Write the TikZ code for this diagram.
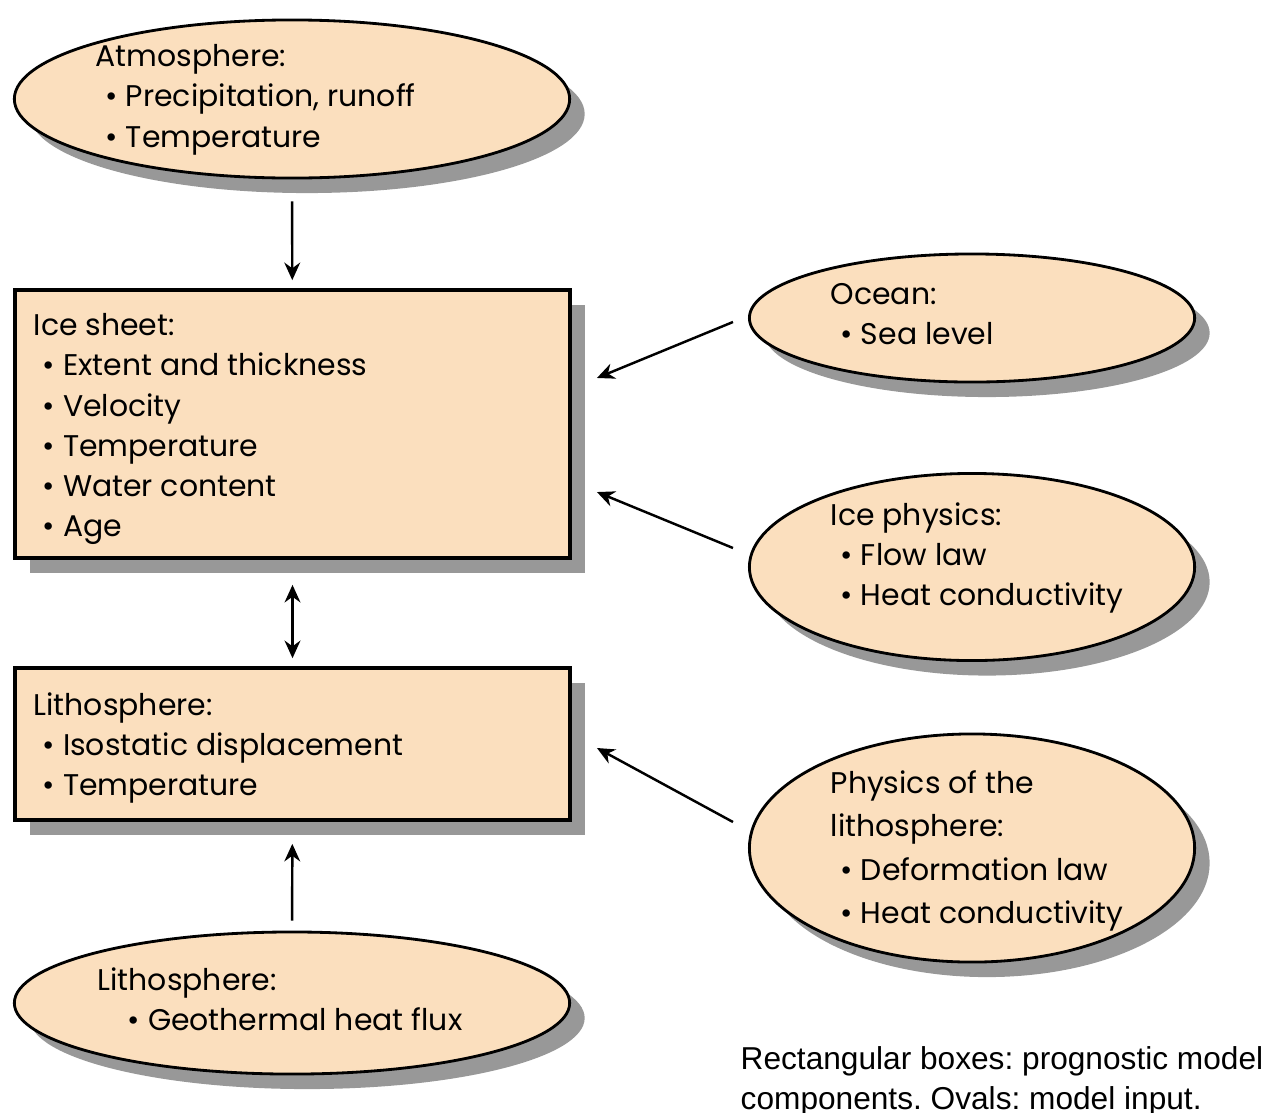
\documentclass[tikz,border=0pt]{standalone}
\usepackage{fontspec}
\setmainfont{Poppins}
\newfontfamily\notefont{Liberation Sans}
\usetikzlibrary{shapes.geometric,shadows,arrows.meta}
\definecolor{peach}{RGB}{251,223,190}
\definecolor{shade}{RGB}{152,152,152}
\frenchspacing

\begin{document}
\begin{tikzpicture}[x=0.01cm, y=-0.01cm,
  box/.style={draw, line width=1pt, fill=peach, minimum width=5.55cm, inner sep=0pt,
    drop shadow={shadow xshift=0.15cm, shadow yshift=-0.15cm, fill=shade, opacity=1}},
  oval/.style={ellipse, draw, line width=0.8pt, fill=peach, inner sep=0pt,
    drop shadow={shadow xshift=0.15cm, shadow yshift=-0.15cm, fill=shade, opacity=1}},
  txt/.style={anchor=north west, inner sep=0pt, align=left, font=\fontsize{8.5}{11.4}\selectfont},
  arrow/.style={-{Stealth[length=5pt,width=4.5pt]}, line width=0.7pt},
  dblarrow/.style={{Stealth[length=5pt,width=4.5pt]}-{Stealth[length=5pt,width=4.5pt]}, line width=0.7pt},
]
  \useasboundingbox (0,0) rectangle (1280,1112);

  % model components (boxes)
  \node[box, minimum height=2.68cm] (icebox) at (292.5,424) {};
  \node[box, minimum height=1.52cm] (lithobox) at (292.5,744) {};

  % model input (ovals)
  \node[oval, minimum width=5.55cm, minimum height=1.58cm] (atm) at (292,99) {};
  \node[oval, minimum width=5.55cm, minimum height=1.42cm] (geo) at (292,1003) {};
  \node[oval, minimum width=4.45cm, minimum height=1.28cm] (ocean) at (972,318) {};
  \node[oval, minimum width=4.45cm, minimum height=1.87cm] (icephys) at (972,567) {};
  \node[oval, minimum width=4.45cm, minimum height=2.28cm] (lithophys) at (972,848) {};

  % texts
  \node[txt] (atmtxt) at (95,44) {Atmosphere:\\\hspace*{0.1cm}• Precipitation, runoff\\\hspace*{0.1cm}• Temperature};
  \node[txt] (icetxt) at (33,313) {Ice sheet:\\\hspace*{0.09cm}• Extent and thickness\\\hspace*{0.09cm}• Velocity\\\hspace*{0.09cm}• Temperature\\\hspace*{0.09cm}• Water content\\\hspace*{0.09cm}• Age};
  \node[txt] (lithotxt) at (33,692) {Lithosphere:\\\hspace*{0.09cm}• Isostatic displacement\\\hspace*{0.09cm}• Temperature};
  \node[txt] (geotxt) at (97,967) {Lithosphere:\\\hspace*{0.3cm}• Geothermal heat flux};
  \node[txt] (oceantxt) at (830,283) {Ocean:\\\hspace*{0.1cm}• Sea level};
  \node[txt] (icephystxt) at (830,502) {Ice physics:\\\hspace*{0.1cm}• Flow law\\\hspace*{0.1cm}• Heat conductivity};
  \node[txt, font=\fontsize{8.5}{12.3}\selectfont] (lithophystxt) at (830,770) {Physics of the\\lithosphere:\\\hspace*{0.1cm}• Deformation law\\\hspace*{0.1cm}• Heat conductivity};

  \node[anchor=north west, inner sep=0pt, align=left, font=\notefont\fontsize{9}{11.4}\selectfont] (note) at (740,1046)
    {Rectangular boxes: prognostic model\\components. Ovals: model input.};

  % connectors
  \draw[arrow, shorten <=0.22cm, shorten >=0.08cm] (atm) -- (icebox);
  \draw[dblarrow, shorten <=0.25cm, shorten >=0.08cm] (icebox) -- (lithobox);
  \draw[arrow, shorten <=0.1cm, shorten >=0.22cm] (geo) -- (lithobox);
  \draw[arrow] ([xshift=-0.15cm,yshift=-0.04cm]ocean.west) -- ([xshift=0.25cm,yshift=0.46cm]icebox.east);
  \draw[arrow] ([xshift=-0.15cm,yshift=0.19cm]icephys.west) -- ([xshift=0.25cm,yshift=-0.68cm]icebox.east);
  \draw[arrow] ([xshift=-0.15cm,yshift=0.26cm]lithophys.west) -- ([xshift=0.25cm,yshift=-0.04cm]lithobox.east);
\end{tikzpicture}
\end{document}
